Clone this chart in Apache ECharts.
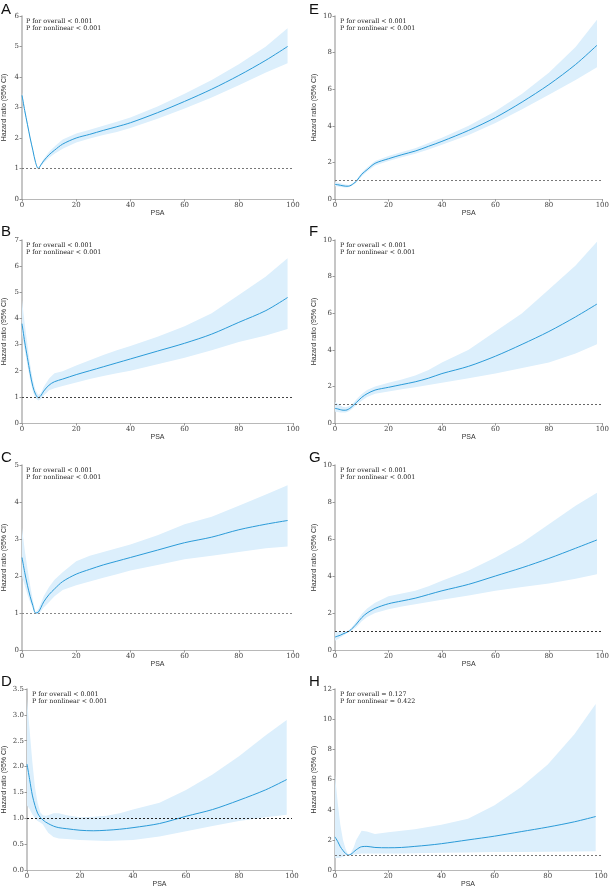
<!DOCTYPE html>
<html>
<head>
<meta charset="utf-8">
<script src="https://cdn.jsdelivr.net/npm/echarts@6/dist/echarts.min.js"></script>
<style>html,body{margin:0;padding:0;background:#fff;}#c{width:612px;height:889px;}</style>
</head>
<body>
<div id="c"></div>
<script>
// PSA grid shared by all panels
var psa = [0,1,2,3,4,5,6,7,8,10,12,15,20,25,30,35,40,50,60,70,80,90,98];

var hrA = [3.4,2.9,2.45,2.0,1.6,1.2,1.0,1.12,1.25,1.45,1.6,1.8,2.0,2.12,2.25,2.37,2.5,2.83,3.2,3.6,4.05,4.55,5.0];
var loA = [3.3,2.8,2.38,1.95,1.56,1.18,1.0,1.08,1.18,1.35,1.48,1.65,1.85,1.98,2.1,2.2,2.33,2.63,2.97,3.33,3.73,4.15,4.45];
var hiA = [3.5,3.0,2.52,2.05,1.64,1.22,1.0,1.16,1.32,1.55,1.72,1.95,2.15,2.27,2.4,2.53,2.67,3.03,3.45,3.9,4.42,5.0,5.6];

var hrE = [0.8,0.78,0.75,0.72,0.7,0.7,0.75,0.85,0.97,1.35,1.6,1.95,2.2,2.42,2.62,2.88,3.15,3.75,4.45,5.3,6.25,7.35,8.4];
var loE = [0.7,0.68,0.66,0.64,0.63,0.64,0.69,0.79,0.9,1.25,1.5,1.83,2.07,2.28,2.47,2.71,2.96,3.5,4.15,4.9,5.7,6.5,7.2];
var hiE = [0.92,0.9,0.86,0.82,0.79,0.77,0.81,0.92,1.05,1.45,1.72,2.08,2.35,2.57,2.78,3.06,3.35,4.0,4.8,5.75,6.9,8.3,9.8];

var hrB = [3.8,3.1,2.5,1.9,1.4,1.1,0.97,1.05,1.22,1.45,1.58,1.68,1.85,2.0,2.15,2.3,2.45,2.75,3.05,3.4,3.85,4.3,4.8];
var loB = [3.4,2.8,2.2,1.65,1.2,0.95,0.86,0.92,1.05,1.25,1.33,1.42,1.55,1.68,1.8,1.9,2.0,2.25,2.5,2.78,3.1,3.35,3.6];
var hiB = [4.7,3.8,3.0,2.25,1.65,1.25,1.08,1.15,1.38,1.7,1.9,1.98,2.2,2.4,2.6,2.78,2.95,3.3,3.7,4.2,4.9,5.6,6.3];

var hrF = [0.8,0.77,0.73,0.7,0.7,0.75,0.85,0.98,1.12,1.4,1.6,1.8,1.95,2.1,2.25,2.45,2.7,3.1,3.65,4.3,5.0,5.8,6.5];
var loF = [0.62,0.6,0.58,0.57,0.58,0.63,0.72,0.85,0.98,1.22,1.42,1.6,1.72,1.85,1.95,2.08,2.2,2.45,2.7,3.0,3.3,3.8,4.3];
var hiF = [1.15,1.05,0.95,0.88,0.86,0.9,0.99,1.12,1.28,1.58,1.8,2.0,2.2,2.38,2.6,2.9,3.3,4.0,5.0,6.0,7.3,8.6,9.9];

var hrC = [2.5,2.1,1.75,1.45,1.2,1.0,1.02,1.15,1.3,1.5,1.65,1.85,2.05,2.18,2.3,2.4,2.5,2.7,2.9,3.05,3.25,3.4,3.5];
var loC = [2.0,1.75,1.5,1.3,1.12,1.0,0.96,1.05,1.15,1.3,1.45,1.62,1.75,1.85,1.95,2.05,2.15,2.3,2.45,2.55,2.65,2.75,2.8];
var hiC = [3.3,2.7,2.2,1.75,1.35,1.02,1.1,1.27,1.45,1.7,1.9,2.1,2.4,2.55,2.65,2.75,2.85,3.1,3.4,3.6,3.9,4.2,4.45];

var hrG = [0.7,0.75,0.8,0.87,0.93,1.0,1.1,1.25,1.4,1.75,2.0,2.25,2.5,2.65,2.8,3.0,3.2,3.55,4.0,4.45,4.95,5.5,5.95];
var loG = [0.5,0.58,0.67,0.77,0.86,0.95,1.02,1.13,1.25,1.55,1.78,2.0,2.2,2.35,2.47,2.6,2.72,2.95,3.2,3.4,3.6,3.85,4.1];
var hiG = [1.0,0.98,0.97,0.98,1.0,1.05,1.18,1.35,1.55,1.95,2.25,2.55,2.9,3.05,3.2,3.45,3.75,4.3,5.0,5.8,6.8,7.8,8.5];

var hrD = [2.05,1.75,1.45,1.25,1.1,1.02,0.97,0.93,0.9,0.85,0.82,0.8,0.77,0.76,0.77,0.79,0.82,0.9,1.04,1.17,1.35,1.55,1.75];
var loD = [1.25,1.18,1.08,1.0,0.95,0.92,0.88,0.8,0.72,0.64,0.61,0.6,0.58,0.57,0.56,0.57,0.58,0.65,0.75,0.85,0.95,1.02,1.07];
var hiD = [3.3,2.7,2.1,1.6,1.3,1.12,1.06,1.05,1.06,1.1,1.1,1.06,1.02,1.03,1.05,1.1,1.17,1.3,1.55,1.85,2.2,2.6,2.9];

var hrH = [2.2,1.9,1.55,1.3,1.1,1.0,1.05,1.2,1.35,1.55,1.57,1.5,1.48,1.5,1.57,1.65,1.75,2.0,2.25,2.55,2.85,3.2,3.55];
var loH = [0.8,0.8,0.82,0.88,0.95,1.0,1.0,1.02,1.05,1.1,1.1,1.1,1.1,1.1,1.12,1.13,1.15,1.17,1.2,1.2,1.22,1.24,1.25];
var hiH = [6.3,4.5,3.0,2.0,1.4,1.0,1.15,1.5,2.0,2.6,2.55,2.4,2.5,2.6,2.7,2.85,3.0,3.4,4.3,5.5,7.0,9.0,11.0];

var panelLetters = ['A','E','B','F','C','G','D','H'];
var pOverall = ['< 0.001','< 0.001','< 0.001','< 0.001','< 0.001','< 0.001','< 0.001','= 0.127'];
var pNonlinear = ['< 0.001','< 0.001','< 0.001','< 0.001','< 0.001','< 0.001','< 0.001','= 0.422'];
var yMax = [6,10,7,10,5,10,3.5,12];
var yStep = [1,2,1,2,1,2,0.5,2];

var panels = [
  {hr:hrA, lo:loA, hi:hiA},
  {hr:hrE, lo:loE, hi:hiE},
  {hr:hrB, lo:loB, hi:hiB},
  {hr:hrF, lo:loF, hi:hiF},
  {hr:hrC, lo:loC, hi:hiC},
  {hr:hrG, lo:loG, hi:hiG},
  {hr:hrD, lo:loD, hi:hiD},
  {hr:hrH, lo:loH, hi:hiH}
];

// layout (pixels)
var layout = [
  {left:21, top:16, width:272, height:183, letterX:1, letterY:2, nameGap:14},
  {left:335, top:16, width:269, height:183, letterX:309, letterY:2, nameGap:17},
  {left:21, top:240, width:272, height:183, letterX:1, letterY:224, nameGap:14},
  {left:335, top:240, width:268, height:183, letterX:309, letterY:224, nameGap:17},
  {left:21, top:465, width:272, height:185, letterX:1, letterY:450, nameGap:14},
  {left:335, top:465, width:269, height:185, letterX:309, letterY:450, nameGap:17},
  {left:27, top:689, width:265, height:184, letterX:1, letterY:674, nameGap:19},
  {left:335, top:689, width:266, height:183, letterX:309, letterY:674, nameGap:17}
];
var refColor = ['#777','#777','#444','#666','#888','#333','#222','#777'];

var serif = 'DejaVu Serif';
var sans = 'Liberation Sans';
var lineColor = '#2b9bd8';
var bandColor = '#dcefFC';

var grids = [], xAxes = [], yAxes = [], series = [], titles = [];

panels.forEach(function(p, i){
  var L = layout[i];
  grids.push({left:L.left, top:L.top, width:L.width, height:L.height, containLabel:false});
  xAxes.push({
    gridIndex:i, type:'value', min:0, max:100, interval:20,
    name:'PSA', nameLocation:'middle', nameGap:8,
    nameTextStyle:{fontFamily:sans, fontSize:7, color:'#333'},
    axisLine:{show:true, onZero:false, lineStyle:{color:'#b8b8b8', width:1.2}},
    axisTick:{show:true, length:2.5, lineStyle:{color:'#999'}},
    axisLabel:{fontFamily:serif, fontSize:7, color:'#444', margin:3},
    splitLine:{show:false}
  });
  yAxes.push({
    gridIndex:i, type:'value', min:0, max:yMax[i], interval:yStep[i],
    name:'Hazard ratio (95% CI)', nameLocation:'middle', nameGap:L.nameGap,
    nameTextStyle:{fontFamily:sans, fontSize:7, color:'#333'},
    axisLine:{show:true, lineStyle:{color:'#b8b8b8', width:1.6}},
    axisTick:{show:true, length:2.5, lineStyle:{color:'#999'}},
    axisLabel:{fontFamily:serif, fontSize:7, color:'#444', margin:3,
      formatter: yStep[i] < 1 ? function(v){return v.toFixed(1);} : function(v){return String(v);}},
    splitLine:{show:false}
  });
  // confidence band as a polygon through the axes' coordinates
  (function(pp, idx){
    series.push({
      type:'custom', xAxisIndex:idx, yAxisIndex:idx, clip:true, silent:true,
      data:[[0,0]],
      renderItem:function(params, api){
        var pts = [];
        for (var k = 0; k < psa.length; k++) pts.push(api.coord([psa[k], pp.hi[k]]));
        for (var k2 = psa.length - 1; k2 >= 0; k2--) pts.push(api.coord([psa[k2], pp.lo[k2]]));
        return {type:'polygon', shape:{points:pts}, style:{fill:bandColor, stroke:null}};
      },
      z:1
    });
  })(p, i);
  series.push({
    type:'line', xAxisIndex:i, yAxisIndex:i, showSymbol:false, symbol:'none',
    smooth:0.3,
    data: psa.map(function(x,k){return [x, p.hr[k]];}),
    lineStyle:{color:lineColor, width:1},
    z:3,
    markLine:{
      silent:true, symbol:'none', label:{show:false},
      lineStyle:{color:refColor[i], type:[2,2], width:1},
      data:[{yAxis:1}]
    }
  });
  titles.push({text:panelLetters[i], left:L.letterX, top:L.letterY, padding:0,
    textStyle:{fontFamily:sans, fontSize:15, fontWeight:'normal', color:'#111'}});
  titles.push({text:'P for overall ' + pOverall[i] + '\nP for nonlinear ' + pNonlinear[i],
    left:L.left + 5, top:L.top + 2.5, padding:0,
    textStyle:{fontFamily:serif, fontSize:6.3, fontWeight:'normal', color:'#222', lineHeight:6.5}});
});

var chart = echarts.init(document.getElementById('c'), null, {renderer:'canvas'});
chart.setOption({
  animation:false,
  backgroundColor:'#fff',
  title:titles,
  grid:grids,
  xAxis:xAxes,
  yAxis:yAxes,
  series:series
});
</script>
</body>
</html>
